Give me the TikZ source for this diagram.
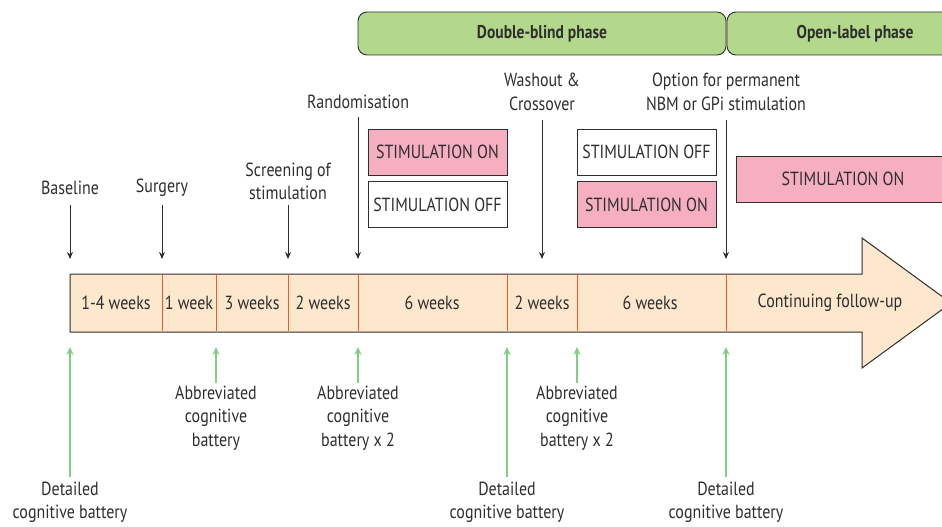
\documentclass[tikz,border=0pt]{standalone}
\usepackage{fontspec}
\setmainfont{PT Sans}[FakeStretch=0.84]
\usetikzlibrary{arrows.meta}
\definecolor{txt}{HTML}{2E2E2E}
\definecolor{peach}{HTML}{FDE8CE}
\definecolor{divr}{HTML}{F05A28}
\definecolor{pinkon}{HTML}{F6AEC1}
\definecolor{phase}{HTML}{B3D88C}
\definecolor{grn}{HTML}{80CF84}
\begin{document}
\begin{tikzpicture}[x=1pt,y=-1pt,
  font=\fontsize{19}{23.5}\selectfont, text=txt,
  lbl/.style={align=center, inner sep=0pt},
  darr/.style={draw=txt, line width=0.9pt, -{Stealth[length=7pt,width=6pt]}},
  garr/.style={draw=grn, line width=1.4pt, -{Stealth[length=8pt,width=7pt]}},
  stimbox/.style={draw=txt, line width=0.9pt, minimum width=139pt, minimum height=46pt, inner sep=0pt},
  phasebox/.style={draw=txt, line width=0.9pt, fill=phase, rounded corners=9pt, minimum height=43pt, inner sep=0pt, font=\fontsize{18.5}{20}\selectfont\bfseries},
  divline/.style={draw=divr, line width=1pt}]
\useasboundingbox (0,0) rectangle (942,527);
\begin{scope}
\clip (0,0) rectangle (942,527);
% phase boxes
\node[phasebox, minimum width=368pt] (db) at (542,33.5) {Double-blind phase};
\node[phasebox, minimum width=256pt] (ol) at (855,33.5) {Open-label phase};
% main timeline arrow
\draw[fill=peach, draw=txt, line width=1pt] (70,274) -- (862,274) -- (862,238) -- (951,303) -- (862,368) -- (862,332) -- (70,332) -- cycle;
% dividers
\foreach \x in {162,216,288,358,507,577,726} \draw[divline] (\x,274.6) -- (\x,331.4);
% segment labels
\node[lbl] (s1) at (116,303) {1-4 weeks};
\node[lbl] (s2) at (189,303) {1 week};
\node[lbl] (s3) at (252,303) {3 weeks};
\node[lbl] (s4) at (323,303) {2 weeks};
\node[lbl] (s5) at (432,303) {6 weeks};
\node[lbl] (s6) at (542,303) {2 weeks};
\node[lbl] (s7) at (650,303) {6 weeks};
\node[lbl] (s8) at (830,303) {Continuing follow-up};
% stimulation boxes
\node[stimbox, fill=pinkon] (on1) at (437.5,152) {STIMULATION ON};
\node[stimbox, fill=white] (off1) at (437.5,204.5) {STIMULATION OFF};
\node[stimbox, fill=white] (off2) at (646.5,152) {STIMULATION OFF};
\node[stimbox, fill=pinkon] (on2) at (646.5,204.5) {STIMULATION ON};
\node[stimbox, fill=pinkon, minimum width=214pt] (on3) at (843,179) {STIMULATION ON};
% top labels
\node[lbl] (baseline) at (70,188) {Baseline};
\node[lbl] (surgery) at (162,188) {Surgery};
\node[lbl] (screen) at (288,181.5) {Screening of\\stimulation};
\node[lbl] (random) at (358,102) {Randomisation};
\node[lbl] (wash) at (542,92) {Washout \&\\Crossover};
\node[lbl] (option) at (726,92) {Option for permanent\\NBM or GPi stimulation};
% top arrow endpoints
\coordinate (a1s) at (70,205);  \coordinate (a1e) at (70,259);
\coordinate (a2s) at (162,205); \coordinate (a2e) at (162,259);
\coordinate (a3s) at (288,205); \coordinate (a3e) at (288,259);
\coordinate (a4s) at (358,117); \coordinate (a4e) at (358,259);
\coordinate (a5s) at (542,120); \coordinate (a5e) at (542,259);
\coordinate (a6s) at (726,120); \coordinate (a6e) at (726,259);
\foreach \i in {1,...,6} \draw[darr] (a\i s) -- (a\i e);
% bottom labels
\node[lbl] (det1) at (70,502.5) {Detailed\\cognitive battery};
\node[lbl] (abb1) at (216,418) {Abbreviated\\cognitive\\battery};
\node[lbl] (abb2) at (358,418) {Abbreviated\\cognitive\\battery x 2};
\node[lbl] (det2) at (507,502.5) {Detailed\\cognitive battery};
\node[lbl] (abb3) at (577,418) {Abbreviated\\cognitive\\battery x 2};
\node[lbl] (det3) at (726,502.5) {Detailed\\cognitive battery};
% bottom arrow endpoints
\coordinate (g1s) at (70,477);  \coordinate (g1e) at (70,347);
\coordinate (g2s) at (216,383); \coordinate (g2e) at (216,347);
\coordinate (g3s) at (358,383); \coordinate (g3e) at (358,347);
\coordinate (g4s) at (507,477); \coordinate (g4e) at (507,347);
\coordinate (g5s) at (577,383); \coordinate (g5e) at (577,347);
\coordinate (g6s) at (726,477); \coordinate (g6e) at (726,347);
\foreach \i in {1,...,6} \draw[garr] (g\i s) -- (g\i e);
\end{scope}
\end{tikzpicture}
\end{document}
